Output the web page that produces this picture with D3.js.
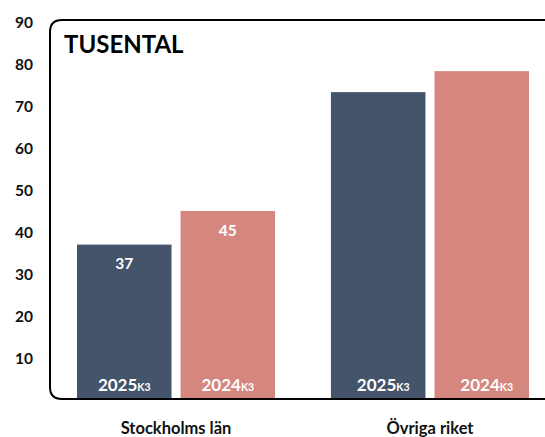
<!DOCTYPE html>
<html>
<head>
<meta charset="utf-8">
<script src="https://cdn.jsdelivr.net/npm/d3@7"></script>
<style>
  body { margin: 0; background: #fff; }
  svg { display: block; font-family: Lato, "Open Sans", sans-serif; }
</style>
</head>
<body>
<div id="chart"></div>
<script>
(function() {
  const width = 545, height = 437;

  // data (thousands)
  const categories = ['Stockholms län', 'Övriga riket'];
  const seriesNames = ['2025', '2024'];
  const seriesSuffix = 'K3';
  const values2025 = [37, 73.3];
  const values2024 = [45, 78.3];
  const valueLabels2025 = ['37', ''];
  const valueLabels2024 = ['45', ''];
  const yTicks = [10, 20, 30, 40, 50, 60, 70, 80, 90];
  const colors = ['#44546A', '#D5877F'];
  const unitTitle = 'TUSENTAL';

  const rows = categories.map((c, i) => ({
    category: c,
    index: i,
    bars: [
      { series: seriesNames[0], value: values2025[i], label: valueLabels2025[i], index: i },
      { series: seriesNames[1], value: values2024[i], label: valueLabels2024[i], index: i }
    ]
  }));

  const svg = d3.select('#chart')
    .append('svg')
      .attr('width', width)
      .attr('height', height);

  /*
    scales: outer band = category, inner band = year
  */
  const y = d3.scaleLinear()
    .domain([0, 90])
    .range([400, 22]);

  const x0 = d3.scaleBand()
    .domain(categories)
    .range([77, 529])
    .paddingInner(0.22)
    .paddingOuter(0);

  const x1 = d3.scaleBand()
    .domain(seriesNames)
    .range([0, x0.bandwidth()])
    .paddingInner(0.087)
    .paddingOuter(0);

  const color = d3.scaleOrdinal()
    .domain(seriesNames)
    .range(colors);

  // bars
  const groups = svg.selectAll('.group')
    .data(rows)
    .enter().append('g')
      .attr('class', 'group')
      .attr('transform', d => `translate(${x0(d.category)},0)`);

  groups.selectAll('.bar')
    .data(d => d.bars)
    .enter().append('rect')
      .attr('class', 'bar')
      .attr('x', d => x1(d.series))
      .attr('y', d => y(d.value))
      .attr('width', x1.bandwidth())
      .attr('height', d => y(0) - y(d.value))
      .style('fill', d => color(d.series));

  // value labels near the top of the bar
  groups.selectAll('.value')
    .data(d => d.bars.filter(b => b.label))
    .enter().append('text')
      .attr('class', 'value')
      .attr('x', d => x1(d.series) + x1.bandwidth() / 2)
      .attr('y', d => y(d.value) + 24.5)
      .attr('text-anchor', 'middle')
      .style('font-weight', 700)
      .style('font-size', '15.5px')
      .style('fill', '#fff')
      .text(d => d.label);

  // year labels at the bottom of each bar (second group sits a bit to the right)
  const yearText = groups.selectAll('.year')
    .data(d => d.bars)
    .enter().append('text')
      .attr('class', 'year')
      .attr('x', d => x1(d.series) + x1.bandwidth() / 2 + (d.index ? 5 : 0))
      .attr('y', 391)
      .attr('text-anchor', 'middle')
      .style('font-weight', 700)
      .style('fill', '#fff');

  yearText.append('tspan')
    .style('font-size', '17px')
    .text(d => d.series);

  yearText.append('tspan')
    .style('font-size', '10.5px')
    .text(seriesSuffix);

  // frame with rounded left corners, open on the right
  const fx = 50, fy0 = 20, fy1 = 399, r = 12;
  svg.append('path')
    .attr('d', `M${width + 5},${fy0} L${fx + r},${fy0} Q${fx},${fy0} ${fx},${fy0 + r}
      L${fx},${fy1 - r} Q${fx},${fy1} ${fx + r},${fy1} L${width + 5},${fy1}`)
    .style('fill', 'none')
    .style('stroke', '#000')
    .style('stroke-width', 2);

  svg.append('text')
    .attr('x', 64)
    .attr('y', 52.5)
    .style('font-weight', 700)
    .style('font-size', '24px')
    .style('fill', '#000')
    .text(unitTitle);

  // y axis, labels only
  const yAxis = svg.append('g')
    .attr('transform', 'translate(33,0)')
    .call(d3.axisLeft(y).tickValues(yTicks).tickSize(0).tickPadding(0));

  yAxis.select('.domain').remove();
  yAxis.selectAll('text')
    .attr('dy', '0.36em')
    .style('font-family', 'Lato, "Open Sans", sans-serif')
    .style('font-weight', 700)
    .style('font-size', '15.5px')
    .style('fill', '#111');

  // category labels under the frame
  svg.selectAll('.category')
    .data(categories)
    .enter().append('text')
      .attr('class', 'category')
      .attr('x', d => x0(d) + x0.bandwidth() / 2)
      .attr('y', 434)
      .attr('text-anchor', 'middle')
      .style('font-weight', 700)
      .style('font-size', '16.5px')
      .style('fill', '#111')
      .text(d => d);
})();
</script>
</body>
</html>
